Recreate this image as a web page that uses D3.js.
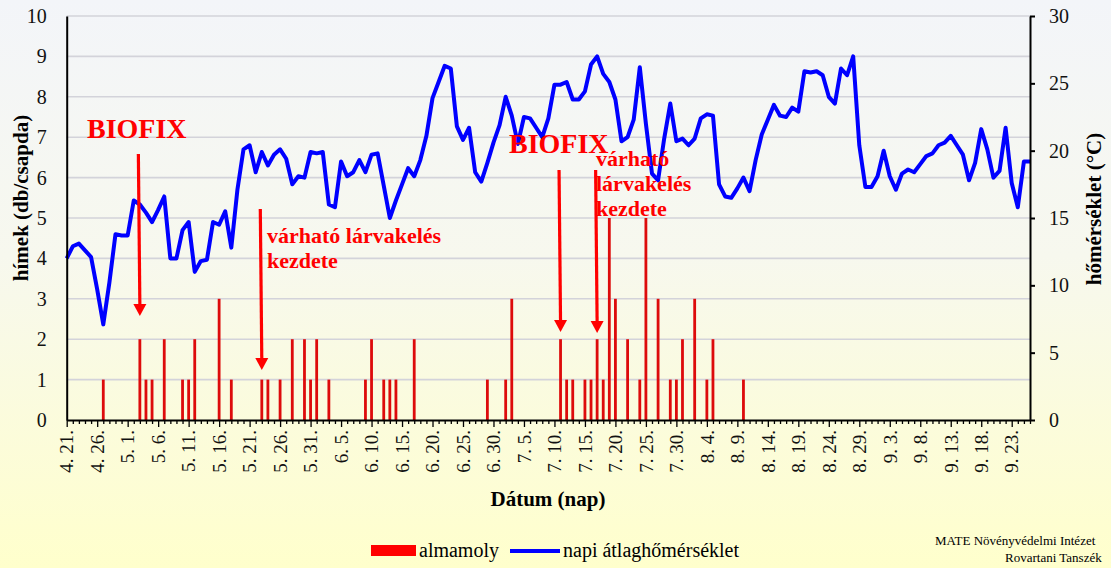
<!DOCTYPE html>
<html>
<head>
<meta charset="utf-8">
<script src="https://cdn.jsdelivr.net/npm/d3@7"></script>
<style>
  body { margin: 0; overflow: hidden; }
  svg { display: block; font-family: "Liberation Serif", "Times New Roman", serif; }
  svg text { font-family: "Liberation Serif", "Times New Roman", serif; }
</style>
</head>
<body>
<svg id="chart" width="1111" height="568"></svg>
<script>
// napi atlaghomerseklet 4.21. - 9.26. (naponta egy ertek)
var kezdoNap = "4.21";
var homerseklet = [
  12.0, 12.9, 13.1, 12.6, 12.1, 9.7, 7.1, 10.2, 13.8, 13.7,
  13.7, 16.3, 16.0, 15.4, 14.7, 15.6, 16.6, 12.0, 12.0, 14.1,
  14.7, 11.0, 11.8, 11.9, 14.7, 14.5, 15.5, 12.8, 17.1, 20.1,
  20.4, 18.4, 19.9, 18.9, 19.7, 20.1, 19.4, 17.5, 18.1, 18.0,
  19.9, 19.8, 19.9, 16.0, 15.8, 19.2, 18.1, 18.4, 19.3, 18.4,
  19.7, 19.8, 17.4, 15.0, 16.3, 17.5, 18.7, 18.1, 19.3, 21.1,
  23.9, 25.1, 26.3, 26.1, 21.8, 20.8, 21.7, 18.4, 17.7, 19.1,
  20.6, 21.9, 24.0, 22.6, 20.5, 22.5, 22.4, 21.7, 21.0, 22.4,
  24.9, 24.9, 25.1, 23.8, 23.8, 24.4, 26.4, 27.0, 25.7, 25.1,
  23.8, 20.7, 21.0, 22.3, 26.2, 22.0, 18.3, 17.8, 20.9, 23.5,
  20.7, 20.9, 20.4, 20.9, 22.4, 22.7, 22.6, 17.5, 16.6, 16.5,
  17.2, 18.0, 17.0, 19.3, 21.2, 22.3, 23.4, 22.6, 22.5, 23.2,
  22.9, 25.9, 25.8, 25.9, 25.6, 24.0, 23.5, 26.1, 25.6, 27.0,
  20.4, 17.3, 17.3, 18.1, 20.0, 18.1, 17.1, 18.3, 18.6, 18.4,
  19.0, 19.6, 19.8, 20.4, 20.6, 21.1, 20.4, 19.7, 17.8, 19.1,
  21.6, 20.1, 18.0, 18.5, 21.7, 17.6, 15.8, 19.2, 19.2
];

// almamoly fogasok (him/csapda)
var fogasDatum = ["4.27", "5.3", "5.4", "5.5", "5.7", "5.10", "5.11", "5.12", "5.16", "5.18",
  "5.23", "5.24", "5.26", "5.28", "5.30", "5.31", "6.1", "6.3", "6.9", "6.10",
  "6.12", "6.13", "6.14", "6.17", "6.29", "7.2", "7.3", "7.11", "7.12", "7.13",
  "7.15", "7.16", "7.17", "7.18", "7.19", "7.20", "7.22", "7.24", "7.25", "7.27",
  "7.29", "7.30", "7.31", "8.2", "8.4", "8.5", "8.10"];
var fogasDb = [1, 2, 1, 1, 2, 1, 1, 2, 3, 1,
  1, 1, 1, 2, 2, 1, 2, 1, 1, 2,
  1, 1, 1, 2, 1, 1, 3, 2, 1, 1,
  1, 1, 2, 1, 5, 3, 2, 1, 5, 3,
  1, 1, 2, 3, 1, 2, 1];

var bal_tickek = [0, 1, 2, 3, 4, 5, 6, 7, 8, 9, 10];
var jobb_tickek = [0, 5, 10, 15, 20, 25, 30];

var ev = 2023;
function datum(s) {
    var p = s.split(".");
    return new Date(Date.UTC(ev, +p[0] - 1, +p[1]));
}
var start = datum(kezdoNap);
var napok = homerseklet.map(function(d, i) { return d3.utcDay.offset(start, i); });
var vege = napok[napok.length - 1];

var svg = d3.select("#chart");
var betu = "Liberation Serif, Times New Roman, serif";

var margin = {left: 66.7, right: 1030, top: 16, bottom: 420};

var x = d3.scaleUtc().domain([start, vege]).range([margin.left, margin.right]);
var yL = d3.scaleLinear().domain([0, 10]).range([margin.bottom, margin.top]);
var yR = d3.scaleLinear().domain([0, 30]).range([margin.bottom, margin.top]);

// hatter
var defs = svg.append("defs");
var grad = defs.append("linearGradient").attr("id", "bg").attr("x1", 0).attr("y1", 0).attr("x2", 0).attr("y2", 1);
grad.append("stop").attr("offset", "0%").attr("stop-color", "#f3f5f9");
grad.append("stop").attr("offset", "45%").attr("stop-color", "#f7f8ee");
grad.append("stop").attr("offset", "100%").attr("stop-color", "#ffffcc");
svg.append("rect").attr("width", 1111).attr("height", 568).attr("fill", "url(#bg)");

// racsvonalak
svg.append("g")
    .selectAll("line")
    .data(bal_tickek.slice(1))
  .enter().append("line")
    .attr("x1", margin.left).attr("x2", margin.right)
    .attr("y1", function(d) { return yL(d); })
    .attr("y2", function(d) { return yL(d); })
    .attr("stroke", "#d3d3da")
    .attr("stroke-width", 1.6);

// oszlopok
svg.append("g")
    .selectAll("rect")
    .data(fogasDatum)
  .enter().append("rect")
    .attr("x", function(d) { return x(datum(d)) - 1.4; })
    .attr("width", 2.8)
    .attr("y", function(d, i) { return yL(fogasDb[i]); })
    .attr("height", function(d, i) { return yL(0) - yL(fogasDb[i]); })
    .attr("fill", "#dd0b0b");

// homerseklet vonal
var line = d3.line()
    .x(function(d, i) { return x(napok[i]); })
    .y(function(d) { return yR(d); });

svg.append("path")
    .datum(homerseklet)
    .attr("d", line)
    .attr("fill", "none")
    .attr("stroke", "#0000ff")
    .attr("stroke-width", 4)
    .attr("stroke-linejoin", "round");

// bal tengely
var balAxis = svg.append("g")
    .attr("transform", "translate(" + margin.left + ",0)")
    .call(d3.axisLeft(yL).tickValues(bal_tickek).tickSize(0).tickPadding(20).tickFormat(d3.format("d")))
    .attr("font-family", betu);
balAxis.select(".domain").attr("stroke", "#000").attr("stroke-width", 2);
balAxis.selectAll("text").attr("font-size", 20).attr("fill", "#111");

// jobb tengely
var jobbAxis = svg.append("g")
    .attr("transform", "translate(" + margin.right + ",0)")
    .call(d3.axisRight(yR).tickValues(jobb_tickek).tickSize(5).tickSizeOuter(0).tickPadding(14))
    .attr("font-family", betu);
jobbAxis.select(".domain").attr("stroke", "#000").attr("stroke-width", 2);
jobbAxis.selectAll(".tick line").attr("stroke", "#000").attr("stroke-width", 2);
jobbAxis.selectAll("text").attr("font-size", 20).attr("fill", "#111");

// x tengely
var xAxis = svg.append("g")
    .attr("transform", "translate(0," + margin.bottom + ")")
    .call(d3.axisBottom(x).tickValues(napok).tickSize(4).tickSizeOuter(0)
        .tickFormat(function(d, i) { return i % 5 === 0 ? (d.getUTCMonth() + 1) + ". " + d.getUTCDate() + "." : ""; }))
    .attr("font-family", betu);
xAxis.select(".domain").attr("stroke", "#000").attr("stroke-width", 2);
xAxis.selectAll(".tick line").attr("stroke", "#000").attr("stroke-width", 1.3)
    .attr("y2", function(d, i) { return i % 5 === 0 ? 7 : 4; });
xAxis.selectAll("text")
    .attr("font-size", 19)
    .attr("fill", "#111")
    .attr("text-anchor", "end")
    .attr("transform", "rotate(-90)")
    .attr("x", -10)
    .attr("y", 0)
    .attr("dy", "0.33em");

// tengelycimek
svg.append("text")
    .attr("transform", "translate(28,198) rotate(-90)")
    .attr("text-anchor", "middle")
    .attr("font-size", 21).attr("font-weight", "bold")
    .text("hímek (db/csapda)");

svg.append("text")
    .attr("transform", "translate(1101,209) rotate(-90)")
    .attr("text-anchor", "middle")
    .attr("font-size", 21).attr("font-weight", "bold")
    .text("hőmérséklet (°C)");

svg.append("text")
    .attr("x", 548).attr("y", 506)
    .attr("text-anchor", "middle")
    .attr("font-size", 21).attr("font-weight", "bold")
    .text("Dátum (nap)");

// feliratok es nyilak
var piros = "#ff0000";
function nyil(d, y1, y2) {
    var xx = x(datum(d));
    svg.append("line")
        .attr("x1", xx - 1.5).attr("y1", y1)
        .attr("x2", xx).attr("y2", y2 - 10)
        .attr("stroke", piros).attr("stroke-width", 3.2);
    svg.append("path")
        .attr("d", "M" + (xx - 6.5) + "," + (y2 - 12) + "L" + (xx + 6.5) + "," + (y2 - 12) + "L" + xx + "," + y2 + "Z")
        .attr("fill", piros);
}
nyil("5.3", 154, 316);
nyil("5.23", 209, 370);
nyil("7.11", 170, 332);
nyil("7.17", 170, 333);

function felirat(xx, y, sorok, meret) {
    var t = svg.append("text")
        .attr("x", xx).attr("y", y)
        .attr("font-size", meret).attr("font-weight", "bold")
        .attr("fill", piros);
    sorok.forEach(function(s, i) {
        t.append("tspan").attr("x", xx).attr("dy", i === 0 ? 0 : "1.13em").text(s);
    });
}
felirat(87, 138, ["BIOFIX"], 28);
felirat(509, 153, ["BIOFIX"], 28);
felirat(267, 243, ["várható lárvakelés", "kezdete"], 22);
felirat(596, 166, ["várható", "lárvakelés", "kezdete"], 22);

// jelmagyarazat
svg.append("rect").attr("x", 371).attr("y", 545).attr("width", 45).attr("height", 11).attr("fill", "#ff0000");
svg.append("text").attr("x", 419).attr("y", 557).attr("font-size", 20).text("almamoly");
svg.append("line").attr("x1", 510).attr("x2", 560).attr("y1", 551).attr("y2", 551)
    .attr("stroke", "#0000ff").attr("stroke-width", 4);
svg.append("text").attr("x", 563).attr("y", 557).attr("font-size", 20).text("napi átlaghőmérséklet");

svg.append("text").attr("x", 935).attr("y", 545).attr("font-size", 13).text("MATE Növényvédelmi Intézet");
svg.append("text").attr("x", 1005).attr("y", 562).attr("font-size", 13).text("Rovartani Tanszék");
</script>
</body>
</html>
